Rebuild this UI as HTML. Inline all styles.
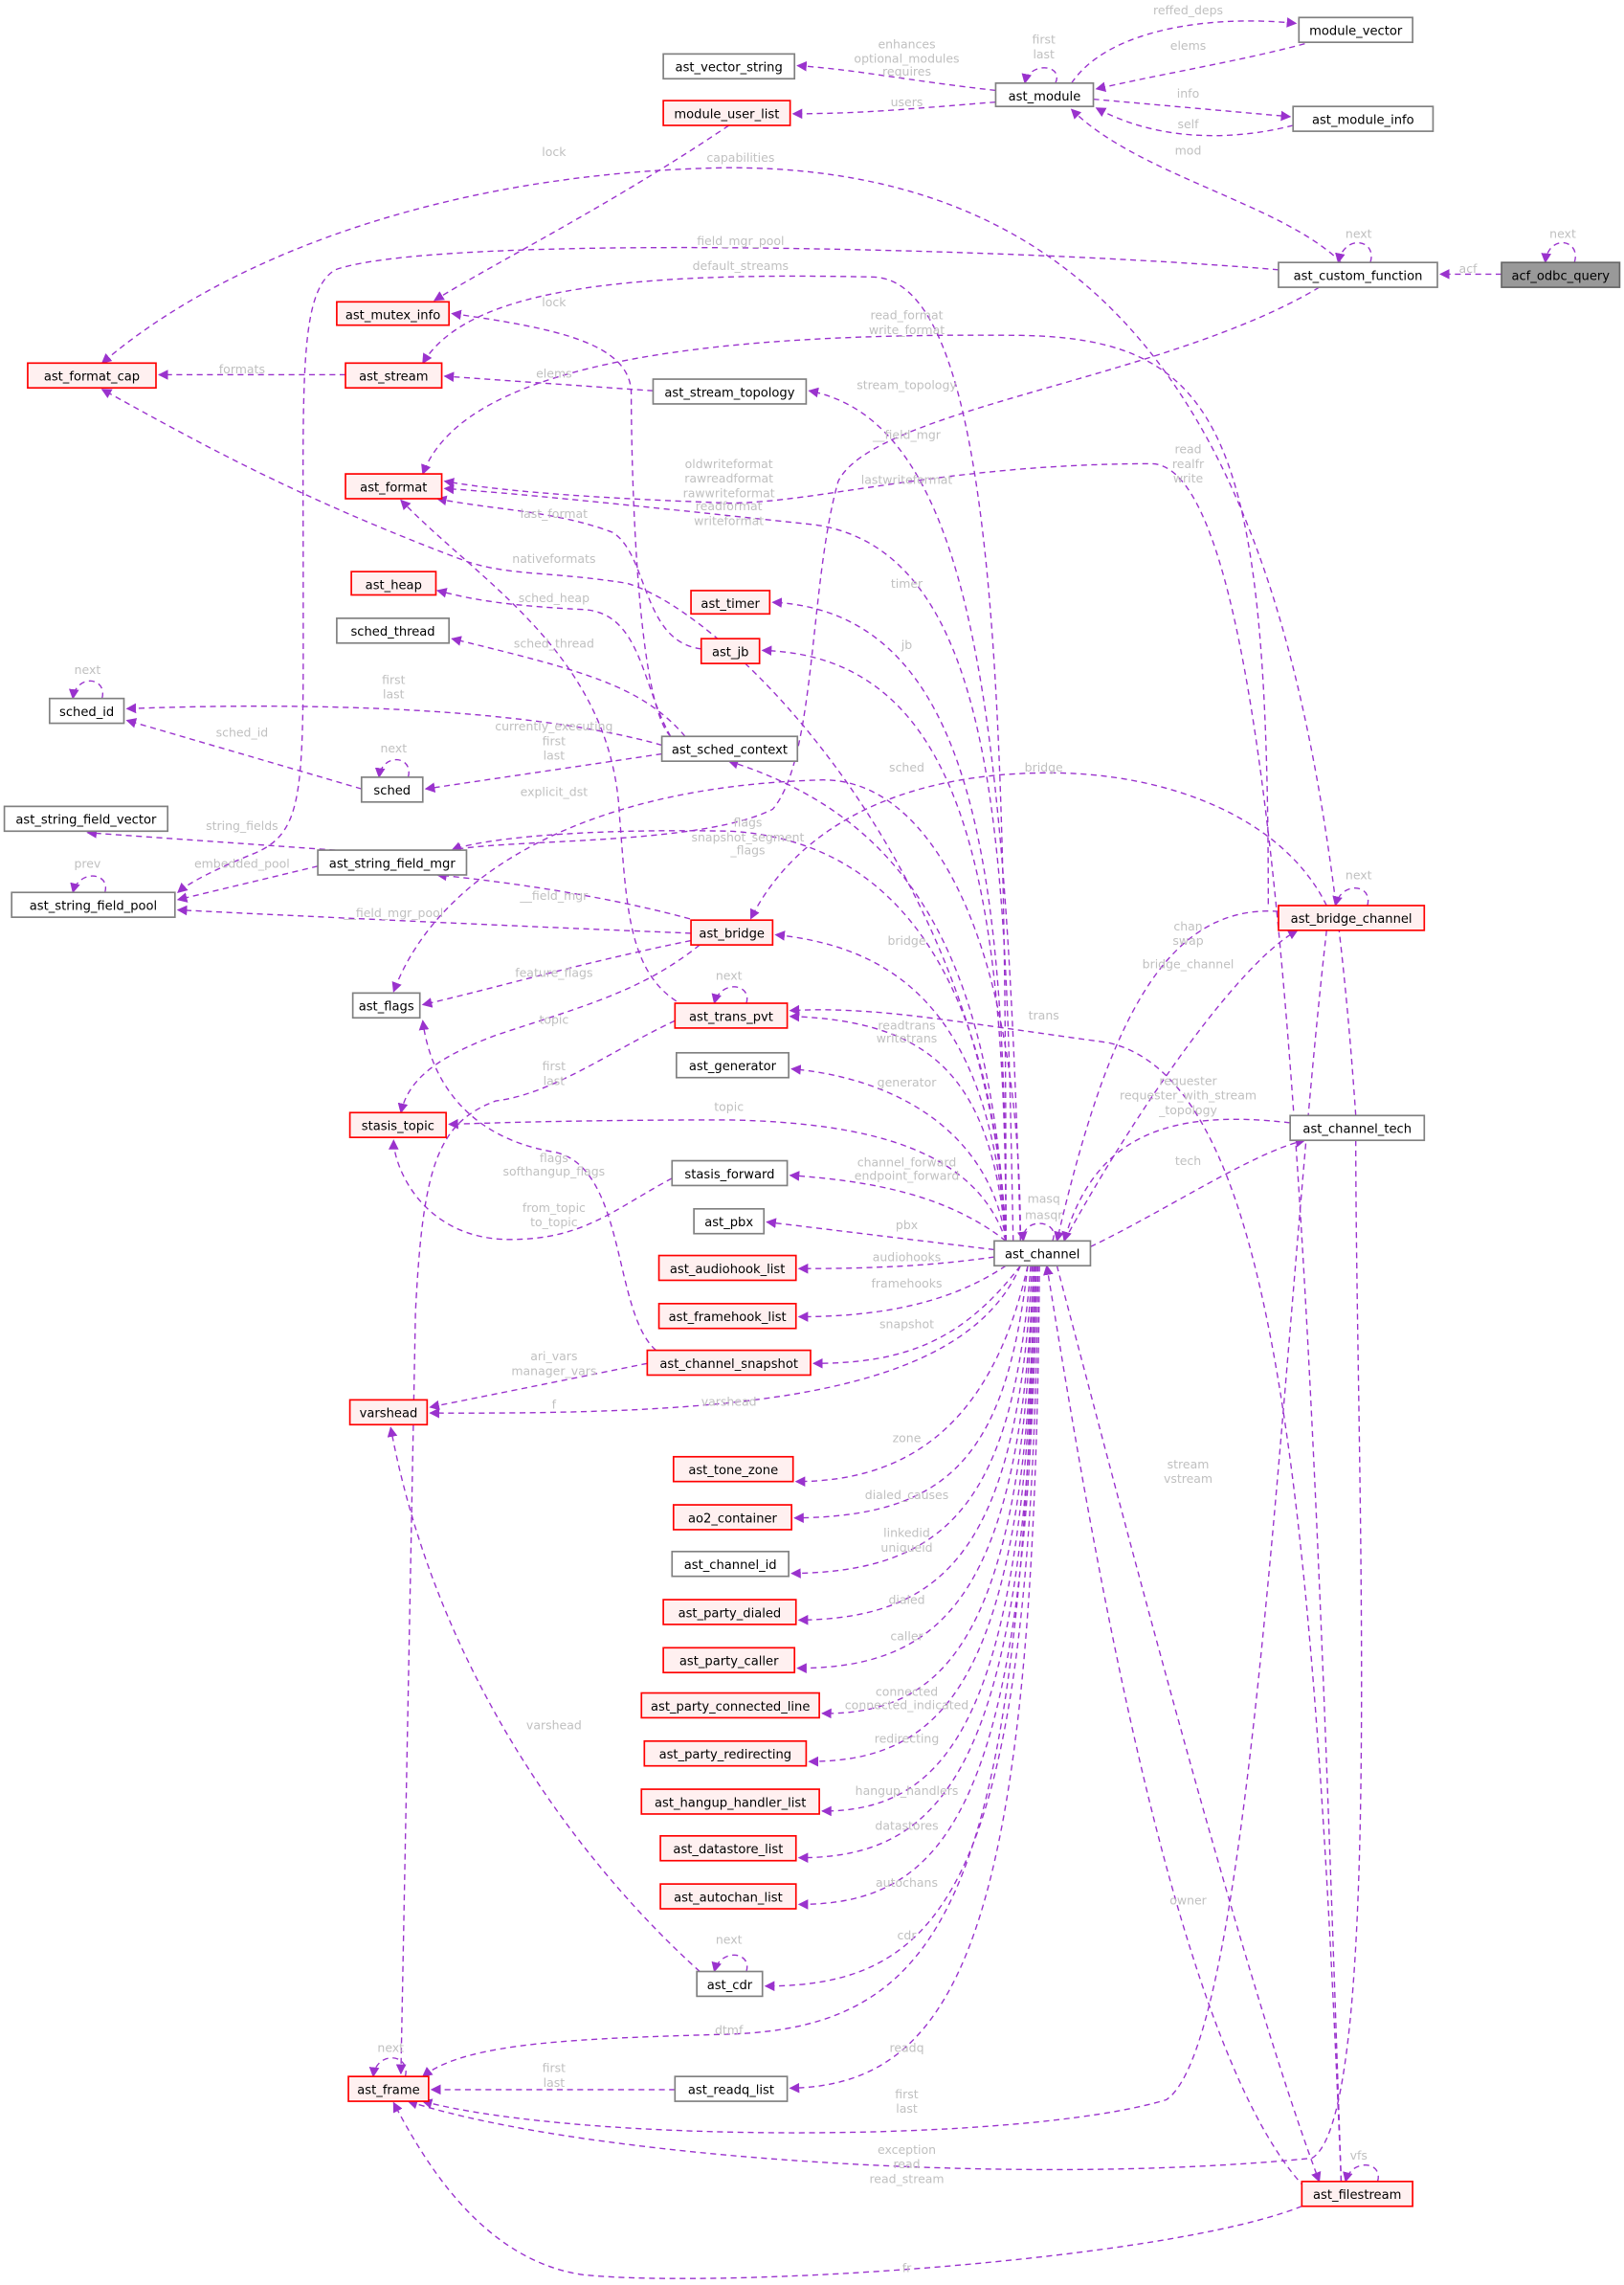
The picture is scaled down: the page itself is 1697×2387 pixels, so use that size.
<!DOCTYPE html>
<html><head><meta charset="utf-8"><style>
html,body{margin:0;padding:0;background:#fff;}
svg{display:block;}
text{font-family:"DejaVu Sans","Liberation Sans",sans-serif;}
.n{font-size:8.6px;fill:#000;text-anchor:middle;}
.l{font-size:8.2px;fill:#c0c0c0;text-anchor:middle;}
.e{fill:none;stroke:#9a32cd;stroke-width:0.9;stroke-dasharray:4,3;marker-end:url(#a);}
.w{fill:#fff;stroke:#808080;stroke-width:1.1;}
.r{fill:#fff0f0;stroke:#ff0000;stroke-width:1.1;}
.g{fill:#999;stroke:#666;stroke-width:1.1;}
</style></head><body>
<svg width="1697" height="2387" viewBox="0 0 1114 1567" preserveAspectRatio="none" xmlns="http://www.w3.org/2000/svg">
<defs><marker id="a" viewBox="0 0 10 10" refX="9" refY="5" markerWidth="7" markerHeight="7" markerUnits="userSpaceOnUse" orient="auto"><path d="M0,0 L10,5 L0,10 z" fill="#9a32cd"/></marker></defs>

<!-- edges -->
<path class="e" d="M1030,188 L988,188"/>
<path class="e" d="M1080,180 C1085,164 1062,160 1060,180"/>
<path class="e" d="M940,180 C945,164 922,160 918,180"/>
<path class="e" d="M920,180 C880,140 780,120 735,75"/>
<path class="e" d="M887,86 C840,98 790,95 752,74"/>
<path class="e" d="M750,68 L885,80"/>
<path class="e" d="M895,30 C850,42 800,50 752,61"/>
<path class="e" d="M735,57 C760,20 830,10 889,16"/>
<path class="e" d="M724,57 C730,44 706,42 703,57"/>
<path class="e" d="M683,62 C620,55 590,48 547,45"/>
<path class="e" d="M683,70 C620,75 590,78 544,78"/>
<path class="e" d="M500,86 C420,140 340,180 298,206"/>
<path class="e" d="M930,765 C905,400 830,115 500,115 C300,118 150,180 70,249"/>
<path class="e" d="M877,185 C700,170 300,160 230,185 C205,200 208,260 208,400 C208,540 210,570 175,585 C150,595 130,605 122,612"/>
<path class="e" d="M690,851 C690,500 685,195 600,190 C420,186 320,200 290,249"/>
<path class="e" d="M460,505 C435,480 433,300 433,270 C433,235 380,225 310,215"/>
<path class="e" d="M237,257 L109,257"/>
<path class="e" d="M448,268 L305,258"/>
<path class="e" d="M700,851 C690,500 670,290 555,268"/>
<path class="e" d="M905,197 C800,260 600,280 575,330 C555,400 560,520 530,555 C480,580 350,575 310,583"/>
<path class="e" d="M695,851 C690,600 690,380 560,360 C420,345 350,338 305,335"/>
<path class="e" d="M870,620 C870,300 840,232 700,230 C500,228 320,245 290,325"/>
<path class="e" d="M920,1496 C900,900 880,320 790,318 C650,318 560,345 500,345 C420,342 350,338 305,330"/>
<path class="e" d="M481,445 C440,440 445,380 420,365 C380,350 340,350 300,342"/>
<path class="e" d="M690,851 C680,600 500,420 430,400 C380,392 350,395 320,385 C200,340 130,300 70,267"/>
<path class="e" d="M460,505 C440,470 440,420 400,418 C340,415 320,410 300,405"/>
<path class="e" d="M470,505 C440,470 400,460 310,438"/>
<path class="e" d="M454,511 C380,490 250,480 87,486"/>
<path class="e" d="M454,517 L292,541"/>
<path class="e" d="M248,541 L87,494"/>
<path class="e" d="M70,479 C74,464 52,462 50,479"/>
<path class="e" d="M280,533 C284,518 262,516 260,533"/>
<path class="e" d="M690,851 C690,600 670,420 530,413"/>
<path class="e" d="M690,851 C690,600 660,450 523,446"/>
<path class="e" d="M690,851 C680,650 620,560 500,522"/>
<path class="e" d="M470,690 C430,670 430,620 425,560 C420,450 330,400 275,343"/>
<path class="e" d="M230,583 L60,571"/>
<path class="e" d="M218,594 L122,617"/>
<path class="e" d="M474,640 C350,635 200,628 122,624"/>
<path class="e" d="M480,632 C420,615 350,605 300,600"/>
<path class="e" d="M72,612 C76,598 54,596 50,612"/>
<path class="e" d="M690,851 C680,650 600,575 500,570 C400,568 330,575 310,583"/>
<path class="e" d="M700,851 C700,650 640,530 560,535 C400,540 300,600 270,680"/>
<path class="e" d="M474,645 C400,660 330,680 290,689"/>
<path class="e" d="M480,648 C440,680 400,690 340,710 C300,725 280,740 275,763"/>
<path class="e" d="M463,700 C420,720 380,750 340,755 C300,770 290,800 285,900 L275,1422"/>
<path class="e" d="M910,621 C880,560 800,530 720,530 C600,530 540,580 515,630"/>
<path class="e" d="M690,851 C680,700 620,650 532,641"/>
<path class="e" d="M730,851 C780,760 850,660 890,638"/>
<path class="e" d="M877,625 C800,620 760,700 725,851"/>
<path class="e" d="M938,621 C942,606 920,604 916,621"/>
<path class="e" d="M512,688 C516,674 494,672 490,688"/>
<path class="e" d="M690,851 C680,740 640,700 542,697"/>
<path class="e" d="M920,1496 C900,1000 870,740 760,715 C650,700 600,690 542,693"/>
<path class="e" d="M690,851 C680,780 620,740 543,733"/>
<path class="e" d="M690,851 C670,790 600,770 500,768 C400,768 340,770 308,771"/>
<path class="e" d="M748,855 C800,830 860,790 895,782"/>
<path class="e" d="M885,770 C800,760 750,780 730,851"/>
<path class="e" d="M461,808 C420,830 400,850 350,850 C290,850 270,800 270,782"/>
<path class="e" d="M690,851 C650,820 600,810 542,806"/>
<path class="e" d="M450,926 C420,900 430,800 380,790 C320,780 295,740 290,700"/>
<path class="e" d="M722,851 C728,836 700,834 702,851"/>
<path class="e" d="M682,857 L526,838"/>
<path class="e" d="M682,862 C640,868 600,870 548,870"/>
<path class="e" d="M690,868 C650,895 600,903 548,903"/>
<path class="e" d="M700,868 C660,920 620,935 558,935"/>
<path class="e" d="M444,935 L295,965"/>
<path class="e" d="M700,868 C660,960 500,970 295,969"/>
<path class="e" d="M480,1352 C400,1280 300,1150 268,979"/>
<path class="e" d="M705,868 C680,980 620,1016 546,1016"/>
<path class="e" d="M705,868 C690,1000 650,1040 545,1041"/>
<path class="e" d="M707,868 C695,1030 650,1078 543,1079"/>
<path class="e" d="M708,868 C698,1060 650,1110 548,1111"/>
<path class="e" d="M709,868 C700,1090 650,1144 547,1144"/>
<path class="e" d="M709,868 C702,1120 650,1176 564,1175"/>
<path class="e" d="M710,868 C703,1150 650,1208 555,1208"/>
<path class="e" d="M710,868 C704,1180 650,1242 564,1242"/>
<path class="e" d="M711,868 C705,1210 650,1274 548,1274"/>
<path class="e" d="M711,868 C706,1240 650,1306 548,1306"/>
<path class="e" d="M712,868 C708,1290 650,1362 525,1362"/>
<path class="e" d="M512,1352 C516,1338 494,1336 490,1352"/>
<path class="e" d="M710,868 C700,1300 650,1390 500,1395 C400,1398 320,1400 290,1424"/>
<path class="e" d="M713,868 C710,1320 660,1430 542,1432"/>
<path class="e" d="M463,1433 L296,1433"/>
<path class="e" d="M278,1424 C282,1408 258,1406 256,1424"/>
<path class="e" d="M910,638 C880,900 860,1400 800,1440 C700,1470 400,1470 290,1441"/>
<path class="e" d="M930,782 C930,1000 950,1450 900,1480 C700,1500 400,1480 280,1441"/>
<path class="e" d="M893,1513 C800,1550 500,1570 400,1560 C330,1550 290,1480 270,1442"/>
<path class="e" d="M725,868 C760,1000 850,1350 905,1496"/>
<path class="e" d="M895,1500 C800,1400 740,1000 718,868"/>
<path class="e" d="M945,1496 C949,1482 927,1480 923,1496"/>

<!-- edge labels -->
<text class="l" x="1072" y="163">next</text>
<text class="l" x="932" y="163">next</text>
<text class="l" x="1007" y="187">acf</text>
<text class="l" x="815" y="106">mod</text>
<text class="l" x="815" y="88">self</text>
<text class="l" x="815" y="67">info</text>
<text class="l" x="815" y="34">elems</text>
<text class="l" x="815" y="10">reffed_deps</text>
<text class="l" x="716" y="30">first</text><text class="l" x="716" y="40">last</text>
<text class="l" x="622" y="33">enhances</text><text class="l" x="622" y="43">optional_modules</text><text class="l" x="622" y="52">requires</text>
<text class="l" x="622" y="73">users</text>
<text class="l" x="380" y="107">lock</text>
<text class="l" x="508" y="111">capabilities</text>
<text class="l" x="508" y="168">field_mgr_pool</text>
<text class="l" x="508" y="185">default_streams</text>
<text class="l" x="380" y="210">lock</text>
<text class="l" x="622" y="219">read_format</text><text class="l" x="622" y="229">write_format</text>
<text class="l" x="166" y="256">formats</text>
<text class="l" x="380" y="259">elems</text>
<text class="l" x="622" y="267">stream_topology</text>
<text class="l" x="622" y="301">__field_mgr</text>
<text class="l" x="815" y="311">read</text><text class="l" x="815" y="321">realfr</text><text class="l" x="815" y="331">write</text>
<text class="l" x="500" y="321">oldwriteformat</text><text class="l" x="500" y="331">rawreadformat</text><text class="l" x="500" y="341">rawwriteformat</text><text class="l" x="500" y="350">readformat</text><text class="l" x="500" y="360">writeformat</text>
<text class="l" x="622" y="332">lastwriteformat</text>
<text class="l" x="380" y="355">last_format</text>
<text class="l" x="380" y="386">nativeformats</text>
<text class="l" x="622" y="403">timer</text>
<text class="l" x="380" y="413">sched_heap</text>
<text class="l" x="622" y="445">jb</text>
<text class="l" x="380" y="444">sched_thread</text>
<text class="l" x="270" y="469">first</text><text class="l" x="270" y="479">last</text>
<text class="l" x="166" y="505">sched_id</text>
<text class="l" x="380" y="501">currently_executing</text><text class="l" x="380" y="511">first</text><text class="l" x="380" y="521">last</text>
<text class="l" x="270" y="516">next</text>
<text class="l" x="60" y="462">next</text>
<text class="l" x="622" y="529">sched</text>
<text class="l" x="716" y="529">bridge</text>
<text class="l" x="380" y="546">explicit_dst</text>
<text class="l" x="513" y="567">flags</text><text class="l" x="513" y="577">snapshot_segment</text><text class="l" x="513" y="586">_flags</text>
<text class="l" x="166" y="569">string_fields</text>
<text class="l" x="166" y="595">embedded_pool</text>
<text class="l" x="380" y="617">__field_mgr</text>
<text class="l" x="270" y="629">__field_mgr_pool</text>
<text class="l" x="60" y="595">prev</text>
<text class="l" x="815" y="638">chan</text><text class="l" x="815" y="648">swap</text>
<text class="l" x="932" y="603">next</text>
<text class="l" x="622" y="648">bridge</text>
<text class="l" x="815" y="664">bridge_channel</text>
<text class="l" x="380" y="670">feature_flags</text>
<text class="l" x="500" y="672">next</text>
<text class="l" x="716" y="699">trans</text>
<text class="l" x="380" y="702">topic</text>
<text class="l" x="622" y="706">readtrans</text><text class="l" x="622" y="715">writetrans</text>
<text class="l" x="380" y="734">first</text><text class="l" x="380" y="744">last</text>
<text class="l" x="622" y="745">generator</text>
<text class="l" x="815" y="744">requester</text><text class="l" x="815" y="754">requester_with_stream</text><text class="l" x="815" y="764">_topology</text>
<text class="l" x="500" y="762">topic</text>
<text class="l" x="380" y="797">flags</text><text class="l" x="380" y="806">softhangup_flags</text>
<text class="l" x="622" y="800">channel_forward</text><text class="l" x="622" y="809">endpoint_forward</text>
<text class="l" x="815" y="799">tech</text>
<text class="l" x="716" y="825">masq</text><text class="l" x="716" y="836">masqr</text>
<text class="l" x="380" y="831">from_topic</text><text class="l" x="380" y="841">to_topic</text>
<text class="l" x="622" y="843">pbx</text>
<text class="l" x="622" y="865">audiohooks</text>
<text class="l" x="622" y="883">framehooks</text>
<text class="l" x="622" y="911">snapshot</text>
<text class="l" x="380" y="933">ari_vars</text><text class="l" x="380" y="943">manager_vars</text>
<text class="l" x="500" y="964">varshead</text>
<text class="l" x="380" y="966">f</text>
<text class="l" x="622" y="989">zone</text>
<text class="l" x="815" y="1007">stream</text><text class="l" x="815" y="1017">vstream</text>
<text class="l" x="622" y="1028">dialed_causes</text>
<text class="l" x="622" y="1054">linkedid</text><text class="l" x="622" y="1064">uniqueid</text>
<text class="l" x="622" y="1100">dialed</text>
<text class="l" x="622" y="1125">caller</text>
<text class="l" x="622" y="1163">connected</text><text class="l" x="622" y="1172">connected_indicated</text>
<text class="l" x="380" y="1186">varshead</text>
<text class="l" x="622" y="1195">redirecting</text>
<text class="l" x="622" y="1231">hangup_handlers</text>
<text class="l" x="622" y="1255">datastores</text>
<text class="l" x="622" y="1294">autochans</text>
<text class="l" x="815" y="1306">owner</text>
<text class="l" x="622" y="1330">cdr</text>
<text class="l" x="500" y="1333">next</text>
<text class="l" x="500" y="1395">dtmf</text>
<text class="l" x="622" y="1407">readq</text>
<text class="l" x="268" y="1407">next</text>
<text class="l" x="380" y="1421">first</text><text class="l" x="380" y="1431">last</text>
<text class="l" x="622" y="1439">first</text><text class="l" x="622" y="1449">last</text>
<text class="l" x="622" y="1477">exception</text><text class="l" x="622" y="1487">read</text><text class="l" x="622" y="1497">read_stream</text>
<text class="l" x="932" y="1481">vfs</text>
<text class="l" x="622" y="1558">fr</text>

<!-- nodes -->
<g>
<rect class="g" x="1030" y="180" width="81" height="17"/><text class="n" x="1070.5" y="192">acf_odbc_query</text>
<rect class="w" x="877" y="180" width="109" height="17"/><text class="n" x="931.5" y="192">ast_custom_function</text>
<rect class="w" x="891" y="12" width="78" height="17"/><text class="n" x="930" y="24">module_vector</text>
<rect class="w" x="683" y="57" width="67" height="16"/><text class="n" x="716.5" y="69">ast_module</text>
<rect class="w" x="887" y="73" width="96" height="17"/><text class="n" x="935" y="85">ast_module_info</text>
<rect class="w" x="455" y="37" width="90" height="17"/><text class="n" x="500" y="49">ast_vector_string</text>
<rect class="r" x="455" y="69" width="87" height="17"/><text class="n" x="498.5" y="81">module_user_list</text>
<rect class="r" x="231" y="207" width="77" height="16"/><text class="n" x="269.5" y="219">ast_mutex_info</text>
<rect class="r" x="19" y="249" width="88" height="17"/><text class="n" x="63" y="261">ast_format_cap</text>
<rect class="r" x="237" y="249" width="66" height="17"/><text class="n" x="270" y="261">ast_stream</text>
<rect class="w" x="448" y="260" width="105" height="17"/><text class="n" x="500.5" y="272">ast_stream_topology</text>
<rect class="r" x="237" y="325" width="66" height="17"/><text class="n" x="270" y="337">ast_format</text>
<rect class="r" x="241" y="392" width="58" height="16"/><text class="n" x="270" y="404">ast_heap</text>
<rect class="w" x="231" y="424" width="77" height="17"/><text class="n" x="269.5" y="436">sched_thread</text>
<rect class="w" x="34" y="479" width="51" height="17"/><text class="n" x="59.5" y="491">sched_id</text>
<rect class="w" x="454" y="505" width="93" height="17"/><text class="n" x="500.5" y="517">ast_sched_context</text>
<rect class="w" x="248" y="533" width="42" height="17"/><text class="n" x="269" y="545">sched</text>
<rect class="r" x="474" y="405" width="54" height="16"/><text class="n" x="501" y="417">ast_timer</text>
<rect class="r" x="481" y="438" width="40" height="17"/><text class="n" x="501" y="450">ast_jb</text>
<rect class="w" x="3" y="553" width="112" height="17"/><text class="n" x="59" y="565">ast_string_field_vector</text>
<rect class="w" x="218" y="583" width="102" height="17"/><text class="n" x="269" y="595">ast_string_field_mgr</text>
<rect class="w" x="8" y="612" width="112" height="17"/><text class="n" x="64" y="624">ast_string_field_pool</text>
<rect class="r" x="474" y="631" width="56" height="17"/><text class="n" x="502" y="643">ast_bridge</text>
<rect class="w" x="242" y="681" width="46" height="17"/><text class="n" x="265" y="693">ast_flags</text>
<rect class="r" x="463" y="688" width="77" height="17"/><text class="n" x="501.5" y="700">ast_trans_pvt</text>
<rect class="w" x="464" y="722" width="77" height="17"/><text class="n" x="502.5" y="734">ast_generator</text>
<rect class="r" x="240" y="763" width="66" height="17"/><text class="n" x="273" y="775">stasis_topic</text>
<rect class="w" x="461" y="796" width="79" height="17"/><text class="n" x="500.5" y="808">stasis_forward</text>
<rect class="w" x="476" y="829" width="48" height="17"/><text class="n" x="500" y="841">ast_pbx</text>
<rect class="w" x="682" y="851" width="66" height="17"/><text class="n" x="715" y="863">ast_channel</text>
<rect class="r" x="452" y="861" width="94" height="17"/><text class="n" x="499" y="873">ast_audiohook_list</text>
<rect class="r" x="452" y="894" width="94" height="17"/><text class="n" x="499" y="906">ast_framehook_list</text>
<rect class="r" x="444" y="926" width="112" height="17"/><text class="n" x="500" y="938">ast_channel_snapshot</text>
<rect class="r" x="240" y="960" width="53" height="17"/><text class="n" x="266.5" y="972">varshead</text>
<rect class="r" x="462" y="999" width="82" height="17"/><text class="n" x="503" y="1011">ast_tone_zone</text>
<rect class="r" x="462" y="1032" width="81" height="17"/><text class="n" x="502.5" y="1044">ao2_container</text>
<rect class="w" x="461" y="1064" width="80" height="17"/><text class="n" x="501" y="1076">ast_channel_id</text>
<rect class="r" x="455" y="1097" width="91" height="17"/><text class="n" x="500.5" y="1109">ast_party_dialed</text>
<rect class="r" x="455" y="1130" width="90" height="17"/><text class="n" x="500" y="1142">ast_party_caller</text>
<rect class="r" x="440" y="1161" width="122" height="17"/><text class="n" x="501" y="1173">ast_party_connected_line</text>
<rect class="r" x="442" y="1194" width="111" height="17"/><text class="n" x="497.5" y="1206">ast_party_redirecting</text>
<rect class="r" x="440" y="1227" width="122" height="17"/><text class="n" x="501" y="1239">ast_hangup_handler_list</text>
<rect class="r" x="453" y="1259" width="93" height="17"/><text class="n" x="499.5" y="1271">ast_datastore_list</text>
<rect class="r" x="453" y="1292" width="93" height="17"/><text class="n" x="499.5" y="1304">ast_autochan_list</text>
<rect class="w" x="478" y="1352" width="45" height="17"/><text class="n" x="500.5" y="1364">ast_cdr</text>
<rect class="r" x="239" y="1424" width="55" height="17"/><text class="n" x="266.5" y="1436">ast_frame</text>
<rect class="w" x="463" y="1424" width="77" height="17"/><text class="n" x="501.5" y="1436">ast_readq_list</text>
<rect class="r" x="877" y="621" width="100" height="17"/><text class="n" x="927" y="633">ast_bridge_channel</text>
<rect class="w" x="885" y="765" width="92" height="17"/><text class="n" x="931" y="777">ast_channel_tech</text>
<rect class="r" x="893" y="1496" width="76" height="17"/><text class="n" x="931" y="1508">ast_filestream</text>
</g>
</svg>
</body></html>
